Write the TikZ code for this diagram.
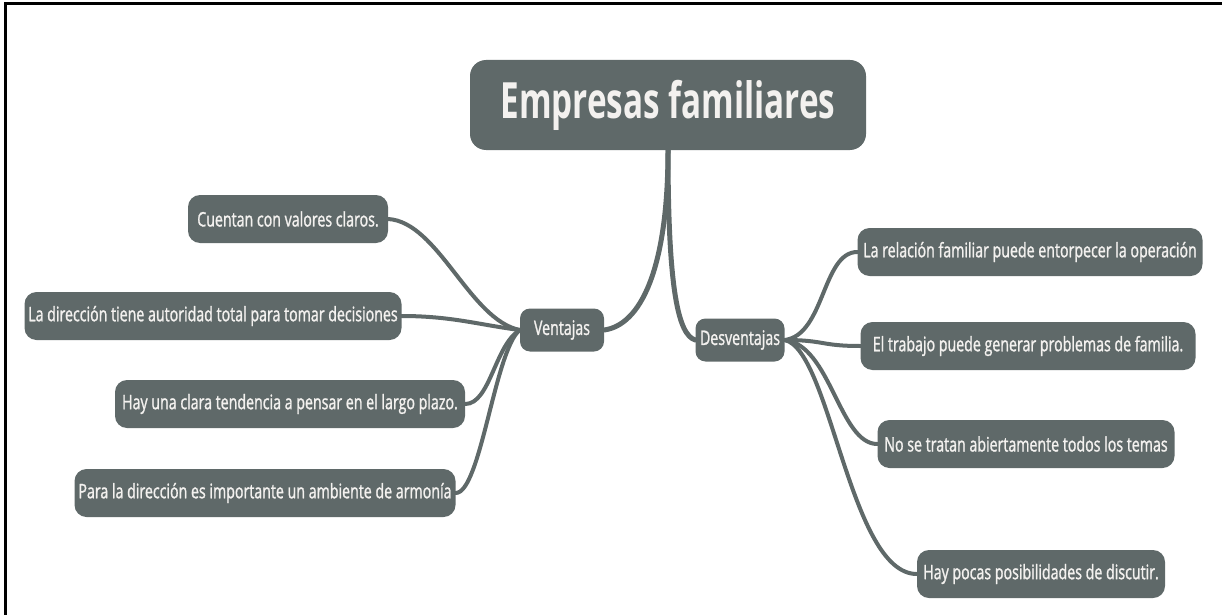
\documentclass[tikz,border=0pt]{standalone}
\usepackage{fontspec}
\setmainfont{Open Sans}
\newfontfamily\rootfont{Open Sans}[FakeStretch=0.665]
\newfontfamily\leaffont{Open Sans}[FakeStretch=0.71,FakeBold=1.2]
\definecolor{boxgray}{HTML}{5F6969}
\definecolor{txtcol}{HTML}{F3F1EF}
\begin{document}
\begin{tikzpicture}[x=1pt,y=-1pt,
  box/.style={fill=boxgray, rounded corners=12pt, text=txtcol, inner sep=0pt, anchor=center},
  leaf/.style={box, font=\leaffont\fontsize{20}{24}\selectfont, minimum height=48pt},
  mid/.style={box, font=\leaffont\fontsize{20}{24}\selectfont, minimum height=43pt, rounded corners=10pt},
  link/.style={draw=boxgray, line width=4pt, line cap=round},
  stem/.style={draw=boxgray, line width=5pt, line cap=round},
  frame/.style={draw=black, line width=3pt}]
\useasboundingbox (0,0) rectangle (1222,615);
\draw[frame] (5,615) -- (5,4) -- (1222,4);

\node[box, minimum width=396pt, minimum height=90pt, rounded corners=16pt,
      font=\rootfont\bfseries\fontsize{50}{54}\selectfont] (root) at (668,105) {Empresas familiares};

\node[mid, minimum width=84pt] (vent) at (562,330) {Ventajas};
\node[mid, minimum width=89pt] (desv) at (740,340) {Desventajas};

\node[leaf, minimum width=200pt] (c1) at (288,219) {Cuentan con valores claros.};
\node[leaf, minimum width=377pt] (c2) at (213,316) {La dirección tiene autoridad total para tomar decisiones};
\node[leaf, minimum width=350pt] (c3) at (290,404) {Hay una clara tendencia a pensar en el largo plazo.};
\node[leaf, minimum width=381pt] (c4) at (265,493) {Para la dirección es importante un ambiente de armonía};

\node[leaf, minimum width=345pt] (d1) at (1030,252) {La relación familiar puede entorpecer la operación};
\node[leaf, minimum width=335pt] (d2) at (1028,346) {El trabajo puede generar problemas de familia.};
\node[leaf, minimum width=297pt] (d3) at (1026,444) {No se tratan abiertamente todos los temas};
\node[leaf, minimum width=248pt] (d4) at (1041,574) {Hay pocas posibilidades de discutir.};

\draw[stem] (root.south) .. controls +(0,120) and +(36,-5) .. (vent.east);
\draw[stem] (root.south) .. controls +(0,140) and +(-17,-5) .. (desv.west);

\draw[link] (c1.east) .. controls +(50,3) and +(-50,-10) .. (vent.west);
\draw[link] (c2.east) .. controls +(50,0) and +(-40,-5) .. (vent.west);
\draw[link] (c3.east) .. controls +(25,0) and +(-25,15) .. (vent.west);
\draw[link] (c4.east) .. controls +(25,0) and +(-25,20) .. (vent.west);

\draw[link] (desv.east) .. controls +(40,-5) and +(-35,0) .. (d1.west);
\draw[link] (desv.east) .. controls +(40,0) and +(-40,0) .. (d2.west);
\draw[link] (desv.east) .. controls +(46,5) and +(-38,0) .. (d3.west);
\draw[link] (desv.east) .. controls +(46,10) and +(-67,0) .. (d4.west);
\end{tikzpicture}
\end{document}
